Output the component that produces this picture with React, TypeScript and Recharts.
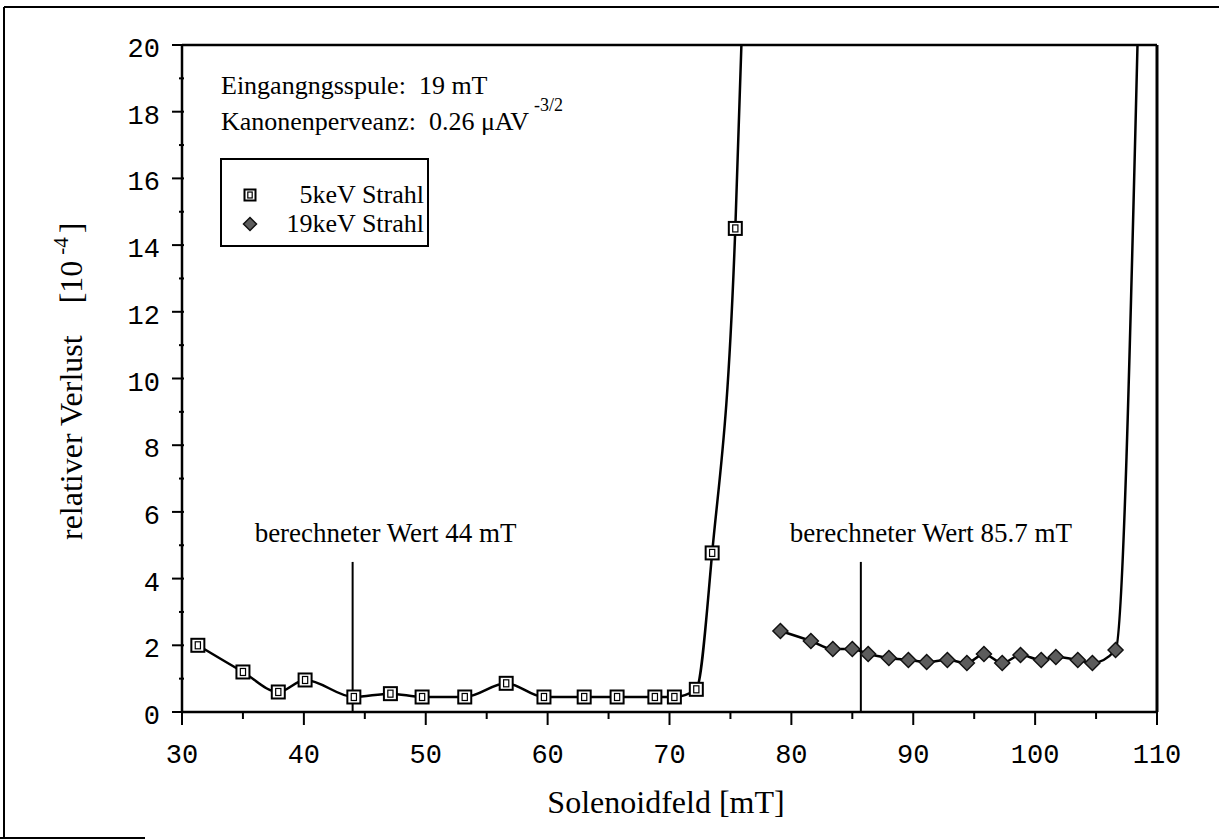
import React from 'react';
import { ComposedChart, Line, Scatter, XAxis, YAxis, ReferenceLine } from 'recharts';

// ---- data ----
const field5keV = [31.3, 35.0, 37.9, 40.1, 44.1, 47.1, 49.7, 53.2, 56.6, 59.7, 63.0, 65.7, 68.8, 70.4, 72.2, 73.5, 75.4];
const loss5keV = [2.0, 1.2, 0.6, 0.96, 0.45, 0.55, 0.45, 0.45, 0.86, 0.45, 0.45, 0.45, 0.45, 0.45, 0.68, 4.77, 14.5];
const curveEnd5keV = { x: 75.9, y: 20 };

const field19keV = [79.1, 81.6, 83.4, 85.0, 86.3, 88.0, 89.6, 91.1, 92.8, 94.4, 95.8, 97.3, 98.8, 100.5, 101.7, 103.5, 104.7, 106.6];
const loss19keV = [2.43, 2.13, 1.89, 1.89, 1.74, 1.62, 1.56, 1.5, 1.56, 1.47, 1.74, 1.47, 1.71, 1.56, 1.65, 1.56, 1.47, 1.86];
const curveEnd19keV = { x: 108.4, y: 20 };

const calcValues = [44, 85.7];
const calcLabels = ['berechneter Wert  44 mT', 'berechneter Wert  85.7 mT'];
const calcTop = 4.5;

const xMajorTicks = [30, 40, 50, 60, 70, 80, 90, 100, 110];
const xMinorTicks = [35, 45, 55, 65, 75, 85, 95, 105];
const yMajorTicks = [0, 2, 4, 6, 8, 10, 12, 14, 16, 18, 20];
const yMinorTicks = [1, 3, 5, 7, 9, 11, 13, 15, 17, 19];

const legendLabels = ['5keV Strahl', '19keV Strahl'];

// ---- derived tables ----
const points5 = field5keV.map((x, i) => ({ x, y: loss5keV[i] }));
const points19 = field19keV.map((x, i) => ({ x, y: loss19keV[i] }));
const curve5 = [...points5, curveEnd5keV];
const curve19 = [...points19, curveEnd19keV];
const xTicks = [...xMajorTicks, ...xMinorTicks].sort((a, b) => a - b);
const yTicks = [...yMajorTicks, ...yMinorTicks].sort((a, b) => a - b);

const SERIF = '"Liberation Serif", "Times New Roman", serif';
const MONO = '"Liberation Mono", "Courier New", monospace';

const SquareMarker = ({ cx, cy, s = 13 }: { cx: number; cy: number; s?: number }) => (
  <g>
    <rect x={cx - s / 2} y={cy - s / 2} width={s} height={s} fill="#fff" stroke="#000" strokeWidth={2} />
    <rect x={cx - s * 0.2} y={cy - s * 0.27} width={s * 0.4} height={s * 0.54} fill="none" stroke="#000" strokeWidth={1.2} />
  </g>
);

const DiamondMarker = ({ cx, cy, r = 7.5 }: { cx: number; cy: number; r?: number }) => (
  <path
    d={`M${cx},${cy - r}L${cx + r},${cy}L${cx},${cy + r}L${cx - r},${cy}Z`}
    fill="#5c5c5c"
    stroke="#111"
    strokeWidth={1.5}
  />
);

const XTick = (props: any) => {
  const { x, y, payload } = props;
  const v = payload.value;
  const major = xMajorTicks.includes(v);
  return (
    <g>
      <line x1={x} y1={y} x2={x} y2={y + (major ? 13 : 7)} stroke="#000" strokeWidth={2} />
      {major && (
        <text x={x} y={y + 51} textAnchor="middle" fontFamily={MONO} fontSize={27} fill="#000">
          {v}
        </text>
      )}
    </g>
  );
};

const YTick = (props: any) => {
  const { x, y, payload } = props;
  const v = payload.value;
  const major = yMajorTicks.includes(v);
  return (
    <g>
      <line x1={major ? x - 10 : x - 3} y1={y} x2={x + 2} y2={y} stroke="#000" strokeWidth={2} />
      {major && (
        <text x={x - 22} y={y + 12} textAnchor="end" fontFamily={MONO} fontSize={27} fill="#000">
          {v}
        </text>
      )}
    </g>
  );
};

const makeCalcLabel = (text: string, dx: number) => (p: any) => {
  const vb = p && p.viewBox ? p.viewBox : null;
  if (!vb) return null;
  return (
    <text x={vb.x + dx} y={vb.y - 20} fontFamily={SERIF} fontSize={27} fill="#000">
      {text}
    </text>
  );
};

export default function App() {
  return (
    <div style={{ position: 'relative', width: 1219, height: 840, background: '#fff', overflow: 'hidden' }}>
      <style>{`html,body{margin:0;padding:0;background:#fff;}`}</style>
      <ComposedChart width={1219} height={840} margin={{ top: 45, right: 62, bottom: 98, left: 122 }}>
        <XAxis
          type="number"
          dataKey="x"
          domain={[30, 110]}
          ticks={xTicks}
          interval={0}
          allowDataOverflow
          tickSize={0}
          tickMargin={0}
          tickLine={false}
          tick={<XTick />}
          axisLine={{ stroke: '#000', strokeWidth: 2.5 }}
          height={30}
        />
        <YAxis
          type="number"
          dataKey="y"
          domain={[0, 20]}
          ticks={yTicks}
          interval={0}
          allowDataOverflow
          tickSize={0}
          tickMargin={0}
          tickLine={false}
          tick={<YTick />}
          axisLine={{ stroke: '#000', strokeWidth: 2.5 }}
          width={60}
        />
        <ReferenceLine y={20} stroke="#000" strokeWidth={2.5} ifOverflow="visible" />
        <ReferenceLine x={110} stroke="#000" strokeWidth={3} ifOverflow="visible" />
        {calcValues.map((v, i) => (
          <ReferenceLine
            key={v}
            segment={[{ x: v, y: 0 }, { x: v, y: calcTop }]}
            stroke="#000"
            strokeWidth={2}
            ifOverflow="visible"
            label={makeCalcLabel(calcLabels[i], i === 0 ? -98 : -71)}
          />
        ))}
        <Line
          data={curve5}
          dataKey="y"
          type="monotone"
          stroke="#000"
          strokeWidth={2.5}
          dot={false}
          activeDot={false}
          isAnimationActive={false}
        />
        <Line
          data={curve19}
          dataKey="y"
          type="monotone"
          stroke="#000"
          strokeWidth={2.5}
          dot={false}
          activeDot={false}
          isAnimationActive={false}
        />
        <Scatter
          data={points5}
          dataKey="y"
          isAnimationActive={false}
          shape={(p: any) => <SquareMarker cx={p.cx} cy={p.cy} />}
        />
        <Scatter
          data={points19}
          dataKey="y"
          isAnimationActive={false}
          shape={(p: any) => <DiamondMarker cx={p.cx} cy={p.cy} />}
        />
      </ComposedChart>
      <svg
        width={1219}
        height={840}
        style={{ position: 'absolute', left: 0, top: 0, pointerEvents: 'none' }}
      >
        {/* outer frame */}
        <line x1={4} y1={7} x2={1219} y2={7} stroke="#000" strokeWidth={2} />
        <line x1={4} y1={7} x2={4} y2={838} stroke="#000" strokeWidth={2} />
        <line x1={0} y1={838} x2={145} y2={838} stroke="#000" strokeWidth={2} />

        {/* annotations */}
        <text x={221} y={94} fontFamily={SERIF} fontSize={26} fill="#000">
          Eingangngsspule:{'\u00a0\u00a0'}19 mT
        </text>
        <text x={221} y={130} fontFamily={SERIF} fontSize={26} fill="#000">
          Kanonenperveanz:{'\u00a0\u00a0'}0.26 μAV
          <tspan fontSize={18} dx={5} dy={-19}>-3/2</tspan>
        </text>

        {/* legend */}
        <rect x={221} y={159} width={207} height={87} fill="#fff" stroke="#000" strokeWidth={2} />
        <SquareMarker cx={250} cy={195} s={11} />
        <DiamondMarker cx={250} cy={224} r={6.5} />
        <text x={424} y={203} textAnchor="end" fontFamily={SERIF} fontSize={26} fill="#000">
          {legendLabels[0]}
        </text>
        <text x={424} y={232} textAnchor="end" fontFamily={SERIF} fontSize={26} fill="#000">
          {legendLabels[1]}
        </text>

        {/* axis titles */}
        <text x={666} y={813} textAnchor="middle" fontFamily={SERIF} fontSize={32} fill="#000">
          Solenoidfeld [mT]
        </text>
        <text
          x={82}
          y={540}
          transform="rotate(-90, 82, 540)"
          fontFamily={SERIF}
          fontSize={32}
          fill="#000"
          style={{ whiteSpace: 'pre' }}
        >
          {'relativer Verlust\u00a0\u00a0\u00a0\u00a0[10'}
          <tspan fontSize={21} dx={6} dy={-14}>-4</tspan>
          <tspan dx={4} dy={14}>]</tspan>
        </text>
      </svg>
    </div>
  );
}
